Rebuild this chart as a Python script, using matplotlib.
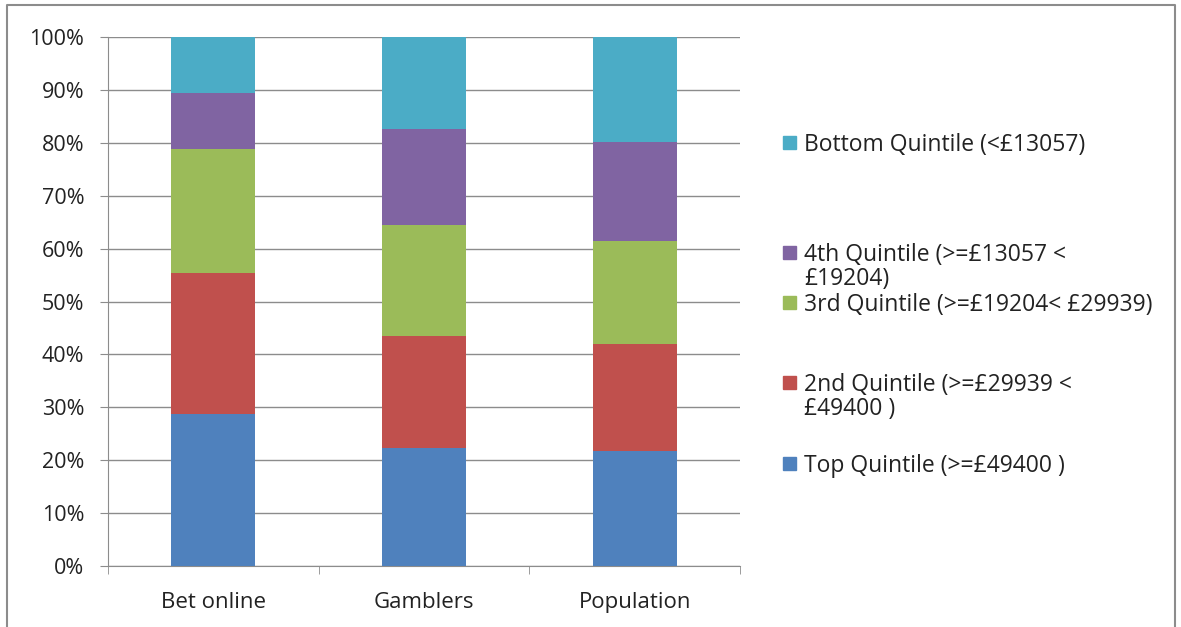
import numpy as np
import matplotlib
matplotlib.use("Agg")
import matplotlib.pyplot as plt
from matplotlib.patches import Rectangle
from matplotlib.ticker import PercentFormatter

groups = ["Bet online", "Gamblers", "Population"]
labels = ["Top Quintile (>=£49400 )",
          "2nd Quintile (>=£29939 <\n£49400 )",
          "3rd Quintile (>=£19204< £29939)",
          "4th Quintile (>=£13057 <\n£19204)",
          "Bottom Quintile (<£13057)"]
top_q = [28.7, 22.3, 21.8]
second_q = [26.6, 21.1, 20.1]
third_q = [23.5, 21.1, 19.5]
fourth_q = [10.7, 18.1, 18.7]
bottom_q = [10.5, 17.4, 19.9]
colors = ["#4F81BD", "#C0504D", "#9BBB59", "#8064A2", "#4BACC6"]

plt.rcParams['font.family'] = ['Open Sans', 'DejaVu Sans']

W, H = 1181, 627
fig = plt.figure(figsize=(W / 100, H / 100), dpi=100)
ax = fig.add_axes([108 / W, 1 - 566 / H, (740 - 108) / W, (566 - 37) / H])

series = [top_q, second_q, third_q, fourth_q, bottom_q]
x = np.arange(len(groups))
bottom = np.zeros(len(groups))
for vals, c in zip(series, colors):
    ax.bar(x, vals, width=0.4, bottom=bottom, color=c, zorder=3)
    bottom += np.array(vals)

ax.set_xlim(-0.5, 2.5)
ax.set_ylim(0, 100)
ax.set_yticks(np.arange(0, 101, 10))
ax.yaxis.set_major_formatter(PercentFormatter(decimals=0))
ax.grid(axis='y', color='#8c8c8c', lw=1, zorder=0)
ax.set_xticks(x)
ax.set_xticklabels(groups)
ax.set_xticks([-0.5, 0.5, 1.5, 2.5], minor=True)
ax.tick_params(axis='x', which='major', length=0, pad=19, labelsize=16, colors='#222222')
ax.tick_params(axis='x', which='minor', length=6, color='#8c8c8c', direction='out')
ax.tick_params(axis='y', length=6, color='#8c8c8c', pad=11, labelsize=15.5, labelcolor='#222222')
for s in ['top', 'right']:
    ax.spines[s].set_visible(False)
for s in ['left', 'bottom']:
    ax.spines[s].set_color('#8c8c8c')

# legend, laid out like the Excel original
leg_y = [464, 383, 303, 253, 143]
for lab, c, yy in zip(labels, colors, leg_y):
    fig.patches.append(Rectangle((783 / W, 1 - (yy + 6) / H), 13 / W, 13 / H,
                                 color=c, transform=fig.transFigure))
    fig.text(804 / W, 1 - (yy - 10) / H, lab, fontsize=16.5, va='top', ha='left',
             color='#222222', linespacing=1.0)

# outer frame
fig.add_artist(plt.Line2D([7 / W, 7 / W, 1175 / W, 1175 / W], [0, 1 - 5 / H, 1 - 5 / H, 0],
                          transform=fig.transFigure, color='#8c8c8c', lw=1.5))

fig.savefig("out.png", dpi=100)
